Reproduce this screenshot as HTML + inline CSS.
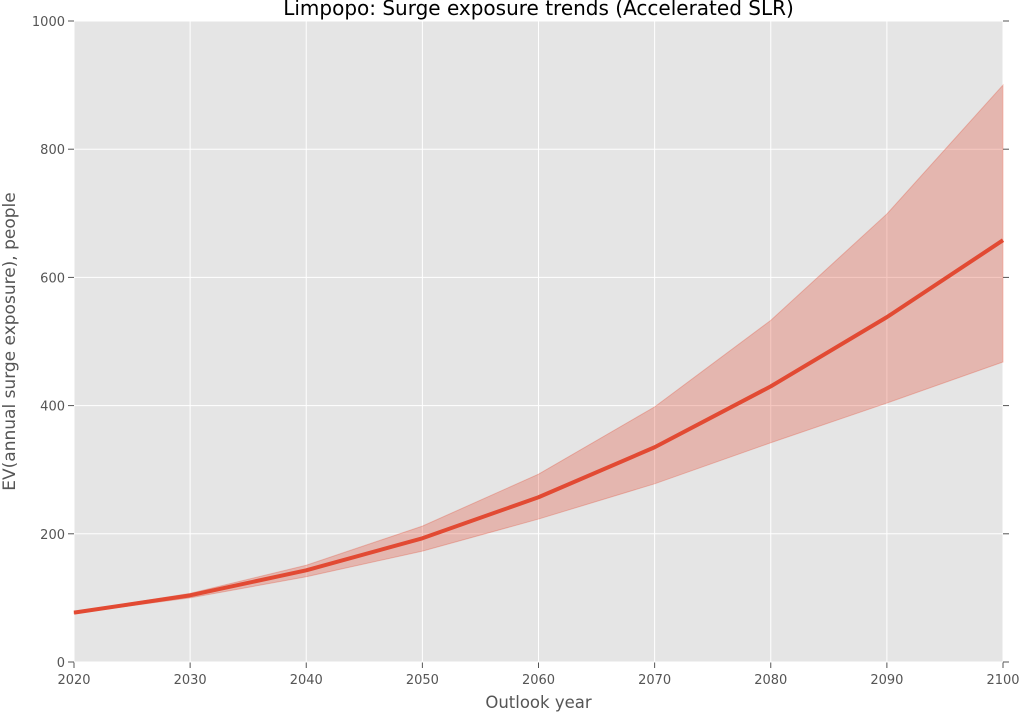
<!DOCTYPE html>
<html><head><meta charset="utf-8"><style>
body{margin:0;background:#fff;}
svg text{font-family:"DejaVu Sans","Liberation Sans",sans-serif;}
</style></head><body>
<svg id="chart" width="1020" height="712" xmlns="http://www.w3.org/2000/svg"></svg>
<script>
const years=[2020,2030,2040,2050,2060,2070,2080,2090,2100];
const meanVals=[77,104,143,193,257,335,430,538,658];
const upperVals=[78,107,151,212,293,398,533,699,900];
const lowerVals=[76,100,133,173,223,278,342,404,468];
const xTicks=[2020,2030,2040,2050,2060,2070,2080,2090,2100];
const yTicks=[0,200,400,600,800,1000];

const svg=document.getElementById('chart');
const NS='http://www.w3.org/2000/svg';
const L=74,R=1003,T=21,B=662;
const x=v=>L+(v-2020)/(2100-2020)*(R-L);
const y=v=>B-v/1000*(B-T);
function mk(tag,attrs,parent){const e=document.createElementNS(NS,tag);for(const k in attrs)e.setAttribute(k,attrs[k]);(parent||svg).appendChild(e);return e;}

const bg=mk('rect',{x:L,y:T,width:R-L,height:B-T,fill:'#e5e5e5'});



xTicks.forEach(t=>{
  const g=mk('line',{x1:x(t),x2:x(t),y1:T,y2:B,stroke:'#fff','stroke-width':1});
  
  
  mk('line',{x1:x(t),x2:x(t),y1:B,y2:B+6,stroke:'#555'});
  const tx=mk('text',{x:x(t),y:B+22,'text-anchor':'middle','font-size':13,fill:'#555'});
  tx.textContent=t;
  
  
});
yTicks.forEach(t=>{
  const g=mk('line',{x1:L,x2:R,y1:y(t),y2:y(t),stroke:'#fff','stroke-width':1});
  
  
  mk('line',{x1:L-6,x2:L,y1:y(t),y2:y(t),stroke:'#555'});
  mk('line',{x1:R,x2:R+6,y1:y(t),y2:y(t),stroke:'#555'});
  const tx=mk('text',{x:L-9,y:y(t)+5,'text-anchor':'end','font-size':13,fill:'#555'});
  tx.textContent=t;
  
  
});

let d='';
years.forEach((yr,i)=>{d+=(i?'L':'M')+x(yr)+','+y(upperVals[i]);});
for(let i=years.length-1;i>=0;i--)d+='L'+x(years[i])+','+y(lowerVals[i]);
const band=mk('path',{d:d+'Z',fill:'#e24a33','fill-opacity':0.3,stroke:'#e24a33','stroke-opacity':0.3});



const pts=years.map((yr,i)=>x(yr)+','+y(meanVals[i])).join(' ');
const line=mk('polyline',{points:pts,fill:'none',stroke:'#e24a33','stroke-width':4,'stroke-linejoin':'round'});



const title=mk('text',{x:(L+R)/2,y:15,'text-anchor':'middle','font-size':20,fill:'#000'});
title.textContent='Limpopo: Surge exposure trends (Accelerated SLR)';


const xl=mk('text',{x:(L+R)/2,y:708,'text-anchor':'middle','font-size':16.5,fill:'#555'});
xl.textContent='Outlook year';


const yl=mk('text',{x:0,y:0,'text-anchor':'middle','font-size':17,fill:'#555',transform:'translate(15,'+((T+B)/2)+') rotate(-90)'});
yl.textContent='EV(annual surge exposure), people';


</script>
</body></html>
